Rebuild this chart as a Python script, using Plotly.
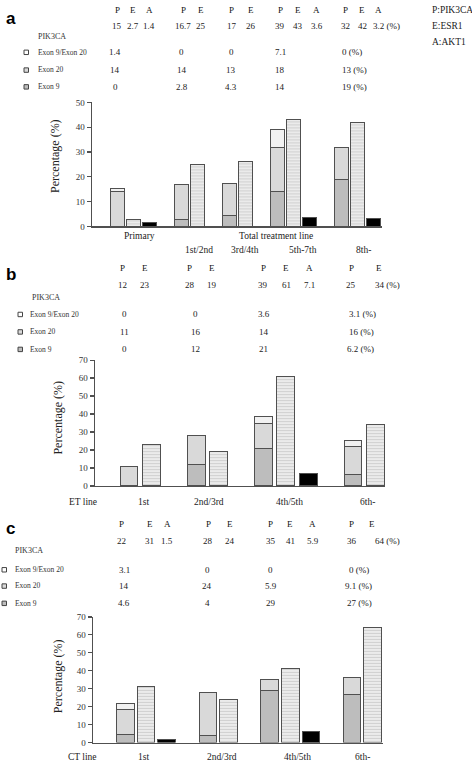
import plotly.graph_objects as go

# ---------------- DATA ----------------
A_groups = ["Primary", "1st/2nd", "3rd/4th", "5th-7th", "8th-"]
A_pik3ca = [15, 16.7, 17, 39, 32]
A_esr1 = [2.7, 25, 26, 43, 42]
A_akt1 = [1.4, None, None, 3.6, 3.2]
A_exon9_20 = [1.4, 0, 0, 7.1, 0]
A_exon20 = [14, 14, 13, 18, 13]
A_exon9 = [0, 2.8, 4.3, 14, 19]

B_groups = ["1st", "2nd/3rd", "4th/5th", "6th-"]
B_pik3ca = [12, 28, 39, 25]
B_esr1 = [23, 19, 61, 34]
B_akt1 = [None, None, 7.1, None]
B_exon9_20 = [0, 0, 3.6, 3.1]
B_exon20 = [11, 16, 14, 16]
B_exon9 = [0, 12, 21, 6.2]

C_groups = ["1st", "2nd/3rd", "4th/5th", "6th-"]
C_pik3ca = [22, 28, 35, 36]
C_esr1 = [31, 24, 41, 64]
C_akt1 = [1.5, None, 5.9, None]
C_exon9_20 = [3.1, 0, 0, 0]
C_exon20 = [14, 24, 5.9, 9.1]
C_exon9 = [4.6, 4, 29, 27]

y_ticks_a = [0, 10, 20, 30, 40, 50]
y_ticks_bc = [0, 10, 20, 30, 40, 50, 60, 70]

# ---------------- STYLE / LAYOUT ----------------
W, H = 472, 767
SERIF = "Liberation Serif"
COL_EX9 = "#bdbdbd"
COL_EX20 = "#d9d9d9"
COL_EX920 = "#f1f1f1"
COL_E_BG = "#ebebeb"
COL_E_FG = "#b5b5b5"
COL_A = "#000000"
EDGE = "#505050"


def X(px):
    return px / W


def Y(py):
    return 1 - py / H


def fmt(v):
    return f"{v:g}"


def slot_starts(n, extra_after):
    s, out = 0, []
    for i in range(n):
        out.append(s)
        s += 3 + (1 if i in extra_after else 0)
    return out


panels = [
    dict(key="a", groups=A_groups, P=A_pik3ca, E=A_esr1, A=A_akt1,
         e920=A_exon9_20, e20=A_exon20, e9=A_exon9,
         extra={0, 3}, width=0.84, xr=[-1.594, 16.53], yr=[0, 50], yt=y_ticks_a,
         xd=(92, 382), yd=(98.7, 224.3),
         letter=(4, 14),
         hdr_y=5.5, val_y=21, pik_y=32, rows_y=[47.7, 65.7, 82.7],
         colP=[117, 183, 231.7, 280, 345.7], colE=[132.7, 201, 251, 297.5, 362.2],
         colA=[149, None, None, 316.5, 378.5], last_val_left=371,
         rowP=[115, 181.7, 231, 280], row_last_left=[340, 340, 340],
         sq_x=24, txt_x=35.7,
         ytitle=(55, 153),
         cat_labels=[("Primary", 139, 234.5), ("Total treatment line", 275.5, 234.5),
                     ("1st/2nd", 199, 248), ("3rd/4th", 245, 248),
                     ("5th-7th", 303, 248), ("8th-", 363, 248)]),
    dict(key="b", groups=B_groups, P=B_pik3ca, E=B_esr1, A=B_akt1,
         e920=B_exon9_20, e20=B_exon20, e9=B_exon9,
         extra={2}, width=0.8, xr=[-1.518, 11.43], yr=[0, 70], yt=y_ticks_bc,
         xd=(95, 385), yd=(359.8, 487.3),
         letter=(4, 273),
         hdr_y=266.7, val_y=284, pik_y=296.7, rows_y=[313.3, 331, 348.7],
         colP=[122.5, 189.5, 263.3, 351], colE=[145.3, 212.3, 286, 379],
         colA=[None, None, 309.7, None], last_val_left=373,
         rowP=[124.3, 195.5, 263.5], row_last_left=[346.5, 346.5, 345],
         sq_x=18, txt_x=28.3,
         ytitle=(58, 418),
         cat_labels=[("ET line", 83, 504), ("1st", 143, 504), ("2nd/3rd", 209, 504),
                     ("4th/5th", 289, 504), ("6th-", 367, 504)]),
    dict(key="c", groups=C_groups, P=C_pik3ca, E=C_esr1, A=C_akt1,
         e920=C_exon9_20, e20=C_exon20, e9=C_exon9,
         extra={0, 2}, width=0.85, xr=[-1.578, 12.5], yr=[0, 70], yt=y_ticks_bc,
         xd=(93, 383), yd=(620, 747.3),
         letter=(4, 530),
         hdr_y=526, val_y=543, pik_y=553, rows_y=[572, 588.5, 606],
         colP=[122, 208, 270.7, 351.5], colE=[149.7, 230, 290, 371.7],
         colA=[167, None, 312.5, None], last_val_left=372.7,
         rowP=[124, 207, 270.7], row_last_left=[346.7, 343.3, 345],
         sq_x=2, txt_x=13.3,
         ytitle=(58, 680),
         cat_labels=[("CT line", 82, 761.5), ("1st", 143, 761.5), ("2nd/3rd", 222, 761.5),
                     ("4th/5th", 297, 761.5), ("6th-", 362, 761.5)]),
]

fig = go.Figure()
annotations = []
shapes = []


def txt(px, py, text, size=9, anchor="center", family=SERIF, color="#222222", bold=False):
    if bold:
        text = f"<b>{text}</b>"
    annotations.append(dict(x=X(px), y=Y(py), xref="paper", yref="paper", text=text,
                            showarrow=False, xanchor=anchor, yanchor="middle",
                            font=dict(family=family, size=size, color=color)))


for i, p in enumerate(panels):
    n = i + 1
    xa = "x" if n == 1 else f"x{n}"
    ya = "y" if n == 1 else f"y{n}"
    starts = slot_starts(len(p["groups"]), p["extra"])
    xP = [s for s in starts]
    xE = [s + 1 for s in starts]
    xA = [s + 2 for s in starts]
    line = dict(color=EDGE, width=1)
    for vals, col in [(p["e9"], COL_EX9), (p["e20"], COL_EX20), (p["e920"], COL_EX920)]:
        fig.add_trace(go.Bar(x=xP, y=[v if v else None for v in vals], width=p["width"],
                             marker=dict(color=col, line=line), xaxis=xa, yaxis=ya,
                             showlegend=False, hoverinfo="skip"))
    fig.add_trace(go.Bar(x=xE, y=p["E"], width=p["width"],
                         marker=dict(color=COL_E_BG, line=line,
                                     pattern=dict(shape="-", fgcolor=COL_E_FG, bgcolor=COL_E_BG,
                                                  size=3, solidity=0.35)),
                         xaxis=xa, yaxis=ya, showlegend=False, hoverinfo="skip"))
    fig.add_trace(go.Bar(x=xA, y=p["A"], width=p["width"],
                         marker=dict(color=COL_A, line=line), xaxis=xa, yaxis=ya,
                         showlegend=False, hoverinfo="skip"))

    xkey = "xaxis" if n == 1 else f"xaxis{n}"
    ykey = "yaxis" if n == 1 else f"yaxis{n}"
    fig.update_layout(**{
        xkey: dict(domain=[X(p["xd"][0]), X(p["xd"][1])], range=p["xr"], anchor=ya,
                   showline=True, linecolor=EDGE, linewidth=1.5, showticklabels=False,
                   ticks="", showgrid=False, zeroline=False, fixedrange=True),
        ykey: dict(domain=[Y(p["yd"][1]), Y(p["yd"][0])], range=p["yr"], anchor=xa,
                   tickvals=p["yt"], showline=True, linecolor=EDGE, linewidth=1.5,
                   ticks="outside", ticklen=4, tickcolor=EDGE, tickwidth=1.2,
                   showgrid=False, zeroline=False, fixedrange=True,
                   tickfont=dict(family=SERIF, size=9, color="#333333")),
    })

    # panel letter
    txt(p["letter"][0], p["letter"][1], p["key"], size=17, anchor="left",
        family="Liberation Sans", color="#000000", bold=True)

    # header & values table
    last = len(p["groups"]) - 1
    for g in range(len(p["groups"])):
        entries = [("P", p["colP"][g], p["P"][g]), ("E", p["colE"][g], p["E"][g])]
        if p["A"][g] is not None:
            entries.append(("A", p["colA"][g], p["A"][g]))
        for k, (lab, cx, v) in enumerate(entries):
            txt(cx, p["hdr_y"], lab, size=9, color="#111111")
            if g == last and k == len(entries) - 1:
                txt(p["last_val_left"], p["val_y"], fmt(v) + " (%)", size=9, anchor="left")
            else:
                txt(cx, p["val_y"], fmt(v), size=9)

    # exon rows
    txt(p["txt_x"] + (1.7 if p["key"] == "b" else 0), p["pik_y"], "PIK3CA", size=8, anchor="left",
        color="#333333")
    rows = [("Exon 9/Exon 20", p["e920"], COL_EX920),
            ("Exon 20", p["e20"], COL_EX20),
            ("Exon 9", p["e9"], COL_EX9)]
    for r, (lab, vals, col) in enumerate(rows):
        ry = p["rows_y"][r]
        shapes.append(dict(type="rect", xref="paper", yref="paper",
                           x0=X(p["sq_x"]), x1=X(p["sq_x"] + 4.5),
                           y0=Y(ry + 2.5), y1=Y(ry - 2),
                           fillcolor="#ffffff" if r == 0 else col,
                           line=dict(color="#444444", width=1)))
        txt(p["txt_x"], ry, lab, size=7.5, anchor="left", color="#333333")
        for g, v in enumerate(vals):
            if g == last:
                txt(p["row_last_left"][r], ry, fmt(v) + " (%)", size=9, anchor="left")
            else:
                txt(p["rowP"][g], ry, fmt(v), size=9)

    # y-title
    annotations.append(dict(x=X(p["ytitle"][0]), y=Y(p["ytitle"][1]), xref="paper", yref="paper",
                            text="Percentage (%)", textangle=-90, showarrow=False,
                            xanchor="center", yanchor="middle",
                            font=dict(family=SERIF, size=12, color="#222222")))
    # category labels
    for lab, cx, cy in p["cat_labels"]:
        txt(cx, cy, lab, size=9.5)

# gene key
txt(430, 5.5, "P:PIK3CA", size=9.5, anchor="left")
txt(430, 21, "E:ESR1", size=9.5, anchor="left")
txt(430, 37, "A:AKT1", size=9.5, anchor="left")

fig.update_layout(width=W, height=H, margin=dict(l=0, r=0, t=0, b=0),
                  paper_bgcolor="white", plot_bgcolor="white", barmode="stack",
                  bargap=0, annotations=annotations, shapes=shapes, hovermode=False)

fig.write_html("out.html", config={"displayModeBar": False, "staticPlot": True},
               post_script="document.body.style.margin='0';document.body.style.overflow='hidden';")
